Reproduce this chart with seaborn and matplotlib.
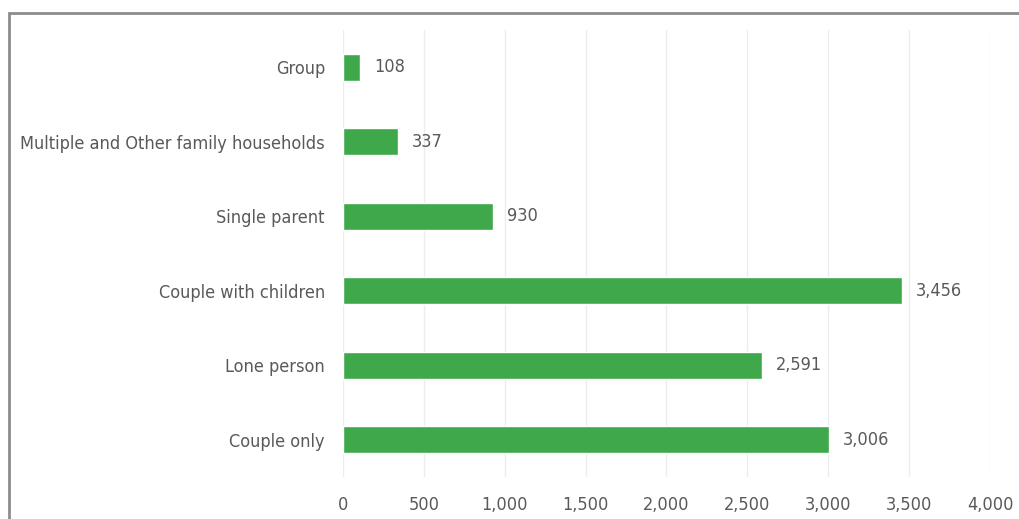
import numpy as np
import pandas as pd
import matplotlib
matplotlib.use("Agg")
import matplotlib.pyplot as plt
import seaborn as sns
from matplotlib.patches import Rectangle
from matplotlib import font_manager

# data
categories = ["Group", "Multiple and Other family households", "Single parent",
              "Couple with children", "Lone person", "Couple only"]
households = [108, 337, 930, 3456, 2591, 3006]
x_ticks = [0, 500, 1000, 1500, 2000, 2500, 3000, 3500, 4000]

df = pd.DataFrame({"category": categories, "value": households})

sns.set_style("white")
narrow = [f for f in font_manager.fontManager.ttflist if f.name == "Liberation Sans Narrow"]
if narrow:
    plt.rcParams["font.family"] = ["Liberation Sans Narrow", "DejaVu Sans"]
else:
    plt.rcParams["font.family"] = ["DejaVu Sans"]
    plt.rcParams["font.stretch"] = "condensed"

fig = plt.figure(figsize=(10.19, 5.19), dpi=100)
ax = fig.add_axes([0.3366, 0.081, 0.6349, 0.861])

sns.barplot(data=df, y="category", x="value", orient="h", color="#3EA84A",
            width=0.36, saturation=1, ax=ax)

ax.set_xlim(0, 4000)
ax.set_ylim(5.5, -0.5)
ax.set_xticks(x_ticks)
ax.set_xticklabels([f"{t:,}" for t in x_ticks])
ax.xaxis.grid(True, color="#ececec", lw=1)
ax.set_axisbelow(True)
for s in ax.spines.values():
    s.set_visible(False)
ax.set_xlabel("")
ax.set_ylabel("")
ax.tick_params(axis="x", length=0, pad=14, labelsize=13, labelcolor="#595959")
ax.tick_params(axis="y", length=0, pad=13, labelsize=13, labelcolor="#595959")

ax.bar_label(ax.containers[0], labels=[f"{v:,}" for v in households],
             padding=10, fontsize=13, color="#595959")

# outer frame (only top and left visible in the crop)
fig.add_artist(Rectangle((9 / 1019, -0.1), 1.2, (519 - 13) / 519 + 0.1,
                         transform=fig.transFigure, fill=False,
                         edgecolor="#8c8c8c", lw=2))

fig.savefig("out.png", dpi=100)
